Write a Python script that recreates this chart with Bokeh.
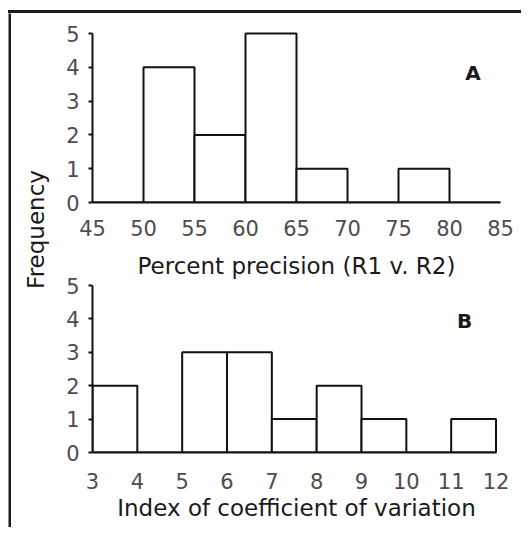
from bokeh.plotting import figure
from bokeh.layouts import row, column
from bokeh.models import FixedTicker, Label, Range1d, Title, Div
from bokeh.embed import file_html
from bokeh.resources import INLINE

# ---------------- data ----------------
a_edges = [45, 50, 55, 60, 65, 70, 75, 80, 85]
a_counts = [0, 4, 2, 5, 1, 0, 1, 0]
a_xticks = [45, 50, 55, 60, 65, 70, 75, 80, 85]
a_title = "Percent precision (R1 v. R2)"

b_edges = [3, 4, 5, 6, 7, 8, 9, 10, 11, 12]
b_counts = [2, 0, 3, 3, 1, 2, 1, 0, 1]
b_xticks = [3, 4, 5, 6, 7, 8, 9, 10, 11, 12]
b_title = "Index of coefficient of variation"

y_ticks = [0, 1, 2, 3, 4, 5]
y_title = "Frequency"

FONT = "DejaVu Sans"
LINE = "#111111"
FRAME = "#1c1c1c"
TICK_COLOR = "#4d4d4d"
TITLE_COLOR = "#1a1a1a"


def panel(edges, counts, xticks, xend, yend, letter, lx, ly, height,
          mb_top, mb_bottom, mb_right, x_standoff):
    p = figure(width=465, height=height, output_backend="svg",
               toolbar_location=None, tools="",
               x_range=Range1d(edges[0], xend), y_range=Range1d(0, yend),
               min_border_left=36, min_border_right=mb_right,
               min_border_top=mb_top, min_border_bottom=mb_bottom)
    p.grid.visible = False
    p.outline_line_color = None
    p.background_fill_color = "white"
    p.border_fill_color = "white"
    p.quad(left=edges[:-1], right=edges[1:], bottom=0, top=counts,
           fill_color="white", line_color=LINE, line_width=2)

    xa = p.xaxis[0]
    xa.ticker = FixedTicker(ticks=xticks)
    xa.bounds = (xticks[0], xticks[-1])
    xa.axis_line_width = 2
    xa.axis_line_color = LINE
    xa.major_tick_out = 0
    xa.major_tick_in = 0
    xa.minor_tick_line_color = None
    xa.major_label_text_font = FONT
    xa.major_label_text_font_size = "21px"
    xa.major_label_text_color = TICK_COLOR
    xa.major_label_standoff = x_standoff
    xa.axis_label_text_font = FONT
    xa.axis_label_text_font_size = "23px"
    xa.axis_label_text_font_style = "normal"
    xa.axis_label_text_color = TITLE_COLOR
    xa.axis_label_standoff = 3

    ya = p.yaxis[0]
    ya.ticker = FixedTicker(ticks=y_ticks)
    ya.bounds = (0, 5)
    ya.axis_line_width = 2
    ya.axis_line_color = LINE
    ya.major_tick_out = 4
    ya.major_tick_in = 0
    ya.major_tick_line_width = 2
    ya.major_tick_line_color = LINE
    ya.minor_tick_line_color = None
    ya.major_label_text_font = FONT
    ya.major_label_text_font_size = "21px"
    ya.major_label_text_color = TICK_COLOR
    ya.major_label_standoff = 9

    p.add_layout(Label(x=lx, y=ly, text=letter, text_font=FONT,
                       text_font_size="20px", text_font_style="bold",
                       text_color=TITLE_COLOR, text_align="center",
                       text_baseline="middle"))
    return p


p1 = panel(a_edges, a_counts, a_xticks, 85, 5.12, "A", 82.3, 3.82,
           height=230, mb_top=16, mb_bottom=41, mb_right=21, x_standoff=17)
p2 = panel(b_edges, b_counts, b_xticks, 12.1, 5.0, "B", 11.3, 3.93,
           height=284, mb_top=41, mb_bottom=75, mb_right=12, x_standoff=20)
p2.xaxis[0].axis_label = b_title
# x title of panel A, placed just above panel B's frame
p2.add_layout(Title(text=a_title, align="center", text_font=FONT,
                    text_font_size="23px", text_font_style="normal",
                    text_color=TITLE_COLOR, standoff=14), "above")

# narrow figure that only carries the shared y title
q = figure(width=45, height=514, output_backend="svg", toolbar_location=None,
           tools="", x_range=Range1d(0, 45), y_range=Range1d(0, 514),
           x_axis_location=None, y_axis_location=None,
           min_border=0, min_border_left=0, min_border_right=0,
           min_border_top=0, min_border_bottom=0)
q.grid.visible = False
q.outline_line_color = None
q.add_layout(Label(x=24, y=298, text=y_title, angle=1.5707963,
                   text_font=FONT, text_font_size="23px",
                   text_color=TITLE_COLOR, text_align="center",
                   text_baseline="middle"))

left_bar = figure(width=3, height=514, output_backend="svg",
                  toolbar_location=None, tools="",
                  x_range=Range1d(0, 1), y_range=Range1d(0, 1),
                  x_axis_location=None, y_axis_location=None,
                  min_border=0, min_border_left=0, min_border_right=0,
                  min_border_top=0, min_border_bottom=0)
left_bar.grid.visible = False
left_bar.outline_line_color = None
left_bar.background_fill_color = FRAME
left_bar.border_fill_color = FRAME

top_bar = Div(text="", width=513, height=3, margin=(0, 0, 0, 0),
              styles={"background-color": FRAME})

layout = column(top_bar, row(left_bar, q, column(p1, p2)),
                styles={"margin-left": "8px", "margin-top": "10px"})

open("out.html", "w").write(file_html(layout, INLINE))
